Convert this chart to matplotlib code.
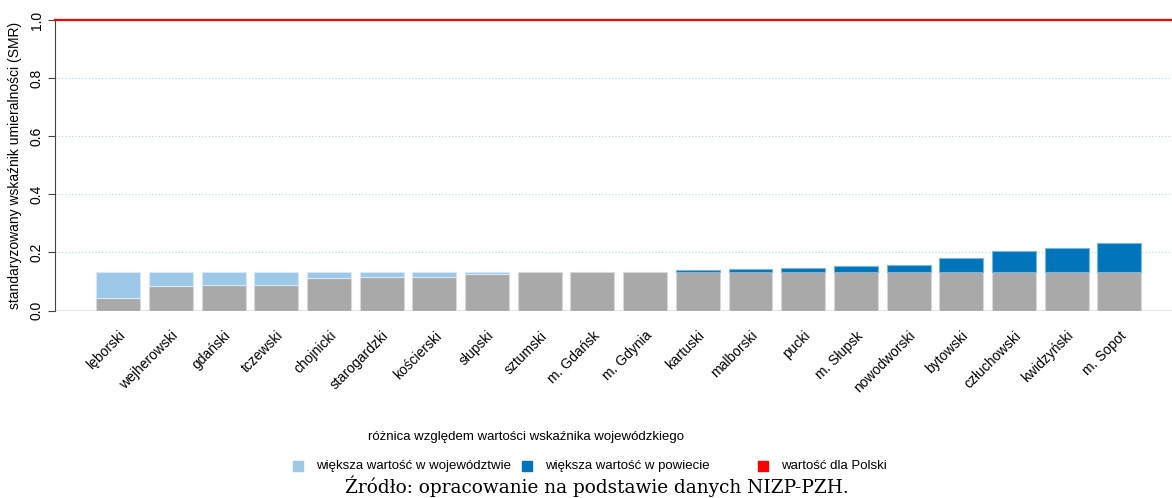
import matplotlib.pyplot as plt
from matplotlib.patches import Rectangle

# powiaty (counties) and their SMR values
powiaty = ["lęborski", "wejherowski", "gdański", "tczewski", "chojnicki",
           "starogardzki", "kościerski", "słupski", "sztumski", "m. Gdańsk",
           "m. Gdynia", "kartuski", "malborski", "pucki", "m. Słupsk",
           "nowodworski", "bytowski", "człuchowski", "kwidzyński", "m. Sopot"]
smr_powiat = [0.043, 0.085, 0.087, 0.087, 0.112, 0.115, 0.116, 0.127, 0.133, 0.133,
              0.133, 0.139, 0.142, 0.146, 0.154, 0.156, 0.180, 0.205, 0.216, 0.232]
smr_woj = 0.133
smr_polska = 1.0

yticks = [0.0, 0.2, 0.4, 0.6, 0.8, 1.0]

GRAY = "#A9A9A9"
LIGHT = "#9DC8E8"
DARK = "#0075BC"
RED = "#FF0000"

base = [min(v, smr_woj) for v in smr_powiat]
lighter = [max(smr_woj - v, 0) for v in smr_powiat]
darker = [max(v - smr_woj, 0) for v in smr_powiat]
x = list(range(len(powiaty)))

fig = plt.figure(figsize=(11.72, 4.98), dpi=100)
ax = fig.add_axes([55 / 1172, 1 - 310.5 / 498, 1 - 55 / 1172, 290.5 / 498])

for yv in yticks[1:-1]:
    ax.axhline(yv, color="#A8D8E8", linestyle=(0, (1, 2)), linewidth=0.8, zorder=0)

w = 0.833
ax.bar(x, base, width=w, color=GRAY, edgecolor="#D8D8D8", linewidth=0.8, zorder=2)
ax.bar(x, lighter, bottom=base, width=w, color=LIGHT, edgecolor="#D8E8F4",
       linewidth=[0.8 if v > 0 else 0 for v in lighter], zorder=2)
ax.bar(x, darker, bottom=base, width=w, color=DARK, edgecolor="#7FB6DE",
       linewidth=[0.8 if v > 0 else 0 for v in darker], zorder=2)

ax.axhline(smr_polska, color=RED, linewidth=1.6, zorder=3, clip_on=False)
ax.axhline(0, color="#E0E0E0", linewidth=2, zorder=1)

ax.set_xlim(-1.2, 20.0)
ax.set_ylim(0, 1.0)
for s in ["top", "right", "bottom"]:
    ax.spines[s].set_visible(False)
ax.spines["left"].set_color("#444444")
ax.spines["left"].set_linewidth(0.8)

ax.set_yticks(yticks)
ax.set_yticklabels([f"{v:.1f}" for v in yticks], rotation=90, va="center",
                   fontsize=10, family="Liberation Sans")
ax.tick_params(axis="y", length=5, color="#444444", pad=3)
ax.set_xticks(x)
ax.set_xticklabels(powiaty, rotation=45, ha="right", va="top", rotation_mode="anchor",
                   fontsize=10, family="Liberation Sans")
ax.tick_params(axis="x", length=0, pad=13)
ax.set_ylabel("standaryzowany wskaźnik umieralności (SMR)", fontsize=10,
              family="Liberation Sans", labelpad=6)

# legend
fig.text(368 / 1172, 1 - 437 / 498, "różnica względem wartości wskaźnika wojewódzkiego",
         fontsize=9.5, family="Liberation Sans", va="center", ha="left")
leg = [(298, LIGHT, "większa wartość w województwie"),
       (527, DARK, "większa wartość w powiecie"),
       (763, RED, "wartość dla Polski")]
for px, col, lab in leg:
    fig.patches.append(Rectangle(((px - 5) / 1172, 1 - 471 / 498), 10 / 1172, 10 / 498,
                                 transform=fig.transFigure, color=col))
    fig.text((px + 18) / 1172, 1 - 466 / 498, lab, fontsize=9.5, family="Liberation Sans",
             va="center", ha="left")

fig.text(597 / 1172, 1 - 486 / 498, "Źródło: opracowanie na podstawie danych NIZP-PZH.",
         fontsize=13.3, family="DejaVu Serif", va="center", ha="center")

fig.savefig("out.png", dpi=100)
